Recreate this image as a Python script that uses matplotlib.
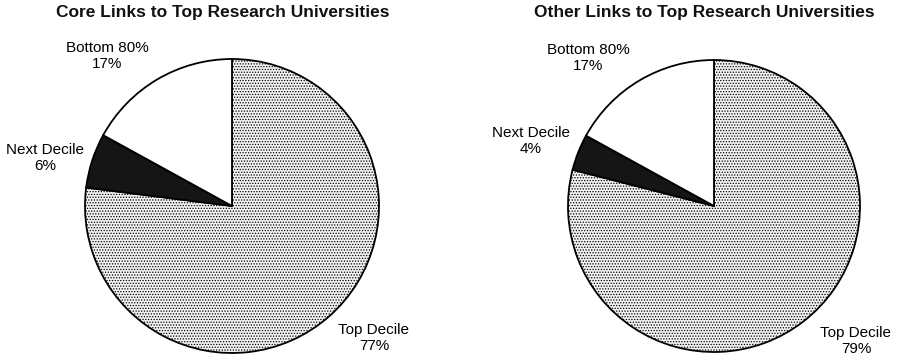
import matplotlib
matplotlib.use("Agg")
import matplotlib.pyplot as plt

plt.rcParams["font.family"] = ["Liberation Sans", "DejaVu Sans"]
plt.rcParams["hatch.color"] = "#8c8c8c"
plt.rcParams["hatch.linewidth"] = 0.6

# Data
categories = ["Top Decile", "Next Decile", "Bottom 80%"]
core_shares = [77, 6, 17]
other_shares = [79, 4, 17]
titles = ["Core Links to Top Research Universities",
          "Other Links to Top Research Universities"]

# Layout (pixels on a 899x358 canvas)
W, H = 899, 358
pie_geom = [(232, 206, 147), (714, 206, 146)]          # centre x, centre y, radius
title_x = [223, 704]
label_pos = [
    [(374, 338), (45, 158), (107, 56)],
    [(856, 341), (531, 141), (588, 58)],
]

face_colors = ["#f2f2f2", "#151515", "white"]
hatches = ["......", None, None]

fig = plt.figure(figsize=(W / 100, H / 100), dpi=100)

for i, shares in enumerate([core_shares, other_shares]):
    cx, cy, r = pie_geom[i]
    ax = fig.add_axes([(cx - r) / W, (H - cy - r) / H, 2 * r / W, 2 * r / H])
    wedges, _ = ax.pie(shares, startangle=90, counterclock=False,
                       colors=face_colors,
                       wedgeprops=dict(edgecolor="black", linewidth=1.3))
    for w, h in zip(wedges, hatches):
        if h:
            w.set_hatch(h)
    ax.set_xlim(-1, 1)
    ax.set_ylim(-1, 1)
    ax.set_aspect("equal")
    ax.axis("off")

    for name, val, (px, py) in zip(categories, shares, label_pos[i]):
        ax.text((px - cx) / r, (cy - py) / r, f"{name}\n{val}%",
                ha="center", va="center", fontsize=11, linespacing=1.2,
                color="black", clip_on=False)

    fig.text(title_x[i] / W, 1 - 13 / H, titles[i], ha="center", va="center",
             fontsize=12.5, fontweight="bold", color="#111111")

fig.savefig("out.png", dpi=100, facecolor="white")
